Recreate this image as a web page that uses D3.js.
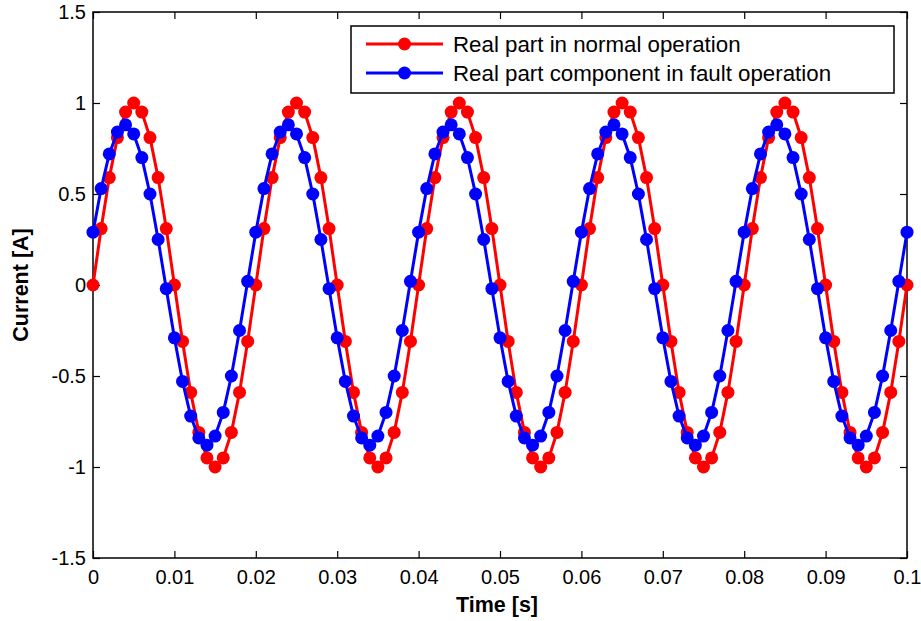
<!DOCTYPE html>
<html>
<head>
<meta charset="utf-8">
<script src="https://cdn.jsdelivr.net/npm/d3@7"></script>
<style>
  html, body { margin: 0; padding: 0; background: #fff; }
  svg { display: block; font-family: "Liberation Sans", Arial, sans-serif; }
</style>
</head>
<body>
<svg id="chart" width="921" height="621"></svg>
<script>
// ---- data ----
const time = [
  0, 0.001, 0.002, 0.003, 0.004, 0.005, 0.006, 0.007, 0.008, 0.009,
  0.010, 0.011, 0.012, 0.013, 0.014, 0.015, 0.016, 0.017, 0.018, 0.019,
  0.020, 0.021, 0.022, 0.023, 0.024, 0.025, 0.026, 0.027, 0.028, 0.029,
  0.030, 0.031, 0.032, 0.033, 0.034, 0.035, 0.036, 0.037, 0.038, 0.039,
  0.040, 0.041, 0.042, 0.043, 0.044, 0.045, 0.046, 0.047, 0.048, 0.049,
  0.050, 0.051, 0.052, 0.053, 0.054, 0.055, 0.056, 0.057, 0.058, 0.059,
  0.060, 0.061, 0.062, 0.063, 0.064, 0.065, 0.066, 0.067, 0.068, 0.069,
  0.070, 0.071, 0.072, 0.073, 0.074, 0.075, 0.076, 0.077, 0.078, 0.079,
  0.080, 0.081, 0.082, 0.083, 0.084, 0.085, 0.086, 0.087, 0.088, 0.089,
  0.090, 0.091, 0.092, 0.093, 0.094, 0.095, 0.096, 0.097, 0.098, 0.099,
  0.100
];
const normalReal = [
  0, 0.31, 0.59, 0.81, 0.95, 1, 0.95, 0.81, 0.59, 0.31,
  0, -0.31, -0.59, -0.81, -0.95, -1, -0.95, -0.81, -0.59, -0.31,
  0, 0.31, 0.59, 0.81, 0.95, 1, 0.95, 0.81, 0.59, 0.31,
  0, -0.31, -0.59, -0.81, -0.95, -1, -0.95, -0.81, -0.59, -0.31,
  0, 0.31, 0.59, 0.81, 0.95, 1, 0.95, 0.81, 0.59, 0.31,
  0, -0.31, -0.59, -0.81, -0.95, -1, -0.95, -0.81, -0.59, -0.31,
  0, 0.31, 0.59, 0.81, 0.95, 1, 0.95, 0.81, 0.59, 0.31,
  0, -0.31, -0.59, -0.81, -0.95, -1, -0.95, -0.81, -0.59, -0.31,
  0, 0.31, 0.59, 0.81, 0.95, 1, 0.95, 0.81, 0.59, 0.31,
  0, -0.31, -0.59, -0.81, -0.95, -1, -0.95, -0.81, -0.59, -0.31,
  0
];
const faultReal = [
  0.29, 0.53, 0.72, 0.84, 0.88, 0.83, 0.70, 0.50, 0.25, -0.02,
  -0.29, -0.53, -0.72, -0.84, -0.88, -0.83, -0.70, -0.50, -0.25, 0.02,
  0.29, 0.53, 0.72, 0.84, 0.88, 0.83, 0.70, 0.50, 0.25, -0.02,
  -0.29, -0.53, -0.72, -0.84, -0.88, -0.83, -0.70, -0.50, -0.25, 0.02,
  0.29, 0.53, 0.72, 0.84, 0.88, 0.83, 0.70, 0.50, 0.25, -0.02,
  -0.29, -0.53, -0.72, -0.84, -0.88, -0.83, -0.70, -0.50, -0.25, 0.02,
  0.29, 0.53, 0.72, 0.84, 0.88, 0.83, 0.70, 0.50, 0.25, -0.02,
  -0.29, -0.53, -0.72, -0.84, -0.88, -0.83, -0.70, -0.50, -0.25, 0.02,
  0.29, 0.53, 0.72, 0.84, 0.88, 0.83, 0.70, 0.50, 0.25, -0.02,
  -0.29, -0.53, -0.72, -0.84, -0.88, -0.83, -0.70, -0.50, -0.25, 0.02,
  0.29
];
const xTicks = [0, 0.01, 0.02, 0.03, 0.04, 0.05, 0.06, 0.07, 0.08, 0.09, 0.1];
const xTickLabels = ["0", "0.01", "0.02", "0.03", "0.04", "0.05", "0.06", "0.07", "0.08", "0.09", "0.1"];
const yTicks = [-1.5, -1, -0.5, 0, 0.5, 1, 1.5];
const yTickLabels = ["-1.5", "-1", "-0.5", "0", "0.5", "1", "1.5"];
const seriesNames = ["Real part in normal operation", "Real part component in fault operation"];
const seriesColors = ["#ff0000", "#0000ff"];

// ---- layout ----
const L = 93, R = 907, T = 12, B = 558;
const svg = d3.select("#chart");
const x = d3.scaleLinear().domain([0, 0.1]).range([L, R]);
const y = d3.scaleLinear().domain([-1.5, 1.5]).range([B, T]);
const tickLen = 7;

// axes (MATLAB style: inward ticks on all four sides)
const fmtX = (d) => xTickLabels[xTicks.indexOf(d)];
const fmtY = (d) => yTickLabels[yTicks.indexOf(d)];

const gB = svg.append("g").attr("transform", `translate(0,${B})`)
  .call(d3.axisBottom(x).tickValues(xTicks).tickFormat(fmtX).tickSizeInner(-tickLen).tickSizeOuter(0).tickPadding(12));
const gT = svg.append("g").attr("transform", `translate(0,${T})`)
  .call(d3.axisTop(x).tickValues(xTicks).tickFormat("").tickSizeInner(-tickLen).tickSizeOuter(0));
const gL = svg.append("g").attr("transform", `translate(${L},0)`)
  .call(d3.axisLeft(y).tickValues(yTicks).tickFormat(fmtY).tickSizeInner(-tickLen).tickSizeOuter(0).tickPadding(7));
const gR = svg.append("g").attr("transform", `translate(${R},0)`)
  .call(d3.axisRight(y).tickValues(yTicks).tickFormat("").tickSizeInner(-tickLen).tickSizeOuter(0));

[gB, gT, gL, gR].forEach(g => {
  g.select(".domain").remove();
  g.selectAll(".tick line").attr("stroke", "#000").attr("stroke-width", 1.2);
  g.selectAll("text").attr("fill", "#000").style("font-size", "20px")
    .style("font-family", '"Liberation Sans", Arial, sans-serif');
});

// box
svg.append("rect").attr("x", L).attr("y", T).attr("width", R - L).attr("height", B - T)
  .attr("fill", "none").attr("stroke", "#000").attr("stroke-width", 1.5);

// series
const series = [normalReal, faultReal];
const line = d3.line().x((d, i) => x(time[i])).y(d => y(d));
series.forEach((vals, s) => {
  const g = svg.append("g");
  g.append("path").datum(vals).attr("d", line)
    .attr("fill", "none").attr("stroke", seriesColors[s]).attr("stroke-width", 3)
    .attr("stroke-linejoin", "round");
  g.selectAll("circle").data(vals).join("circle")
    .attr("cx", (d, i) => x(time[i])).attr("cy", d => y(d))
    .attr("r", 6.5).attr("fill", seriesColors[s]);
});

// axis labels
svg.append("text").attr("x", 497).attr("y", 612)
  .attr("text-anchor", "middle").style("font-size", "21.5px").style("font-weight", "bold")
  .text("Time [s]");
svg.append("text").attr("transform", `translate(28,${(T + B) / 2}) rotate(-90)`)
  .attr("text-anchor", "middle").style("font-size", "21.5px").style("font-weight", "bold")
  .text("Current [A]");

// legend
const lg = svg.append("g");
lg.append("rect").attr("x", 351).attr("y", 26).attr("width", 543).attr("height", 67)
  .attr("fill", "#fff").attr("stroke", "#000").attr("stroke-width", 1.5);
const rowsY = [44, 73];
seriesNames.forEach((name, i) => {
  lg.append("line").attr("x1", 366).attr("x2", 443).attr("y1", rowsY[i]).attr("y2", rowsY[i])
    .attr("stroke", seriesColors[i]).attr("stroke-width", 3);
  lg.append("circle").attr("cx", 404.5).attr("cy", rowsY[i]).attr("r", 6.5).attr("fill", seriesColors[i]);
  lg.append("text").attr("x", 453).attr("y", rowsY[i] + 8)
    .style("font-size", "22.3px").attr("fill", "#000").text(name);
});
</script>
</body>
</html>
